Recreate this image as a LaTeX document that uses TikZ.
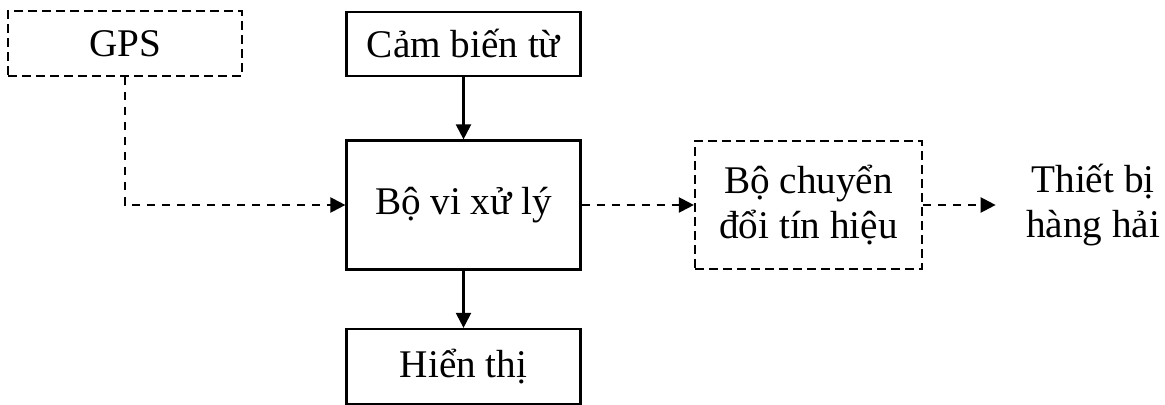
\documentclass[tikz,border=0pt]{standalone}
\usepackage{fontspec}
\setmainfont{Liberation Serif}
\usetikzlibrary{arrows.meta}
\begin{document}
\begin{tikzpicture}[x=0.5pt,y=-0.5pt,
  every node/.style={font=\fontsize{19.6}{22.5}\selectfont, align=center, inner sep=0pt},
  solidbox/.style={draw, line width=1.1pt, minimum width=117pt},
  dashbox/.style={draw, line width=1.1pt, dash pattern=on 4.5pt off 2.5pt},
  tip/.style={-{Triangle[length=7.5pt,width=7.5pt]}},
  solidarrow/.style={tip, line width=1.1pt},
  dasharrow/.style={tip, line width=1.1pt, dash pattern=on 4pt off 3.5pt}]
  \useasboundingbox (0,0) rectangle (1165,405);

  % blocks
  \node[dashbox, minimum width=117pt, minimum height=32.5pt] (gps) at (125,43.5) {GPS};
  \node[solidbox, minimum height=32pt] (sensor) at (463.5,44) {Cảm biến từ};
  \node[solidbox, minimum height=64.5pt] (cpu) at (463.5,205) {Bộ vi xử lý};
  \node[solidbox, minimum height=37.5pt] (disp) at (463.5,366.5) {Hiển thị};
  \node[dashbox, minimum width=113.5pt, minimum height=64pt] (conv) at (808.5,205) {Bộ chuyển\\đổi tín hiệu};
  \node[inner xsep=15pt] (marine) at (1093,205) {Thiết bị\\hàng hải};

  % connections
  \draw[solidarrow] (sensor) -- (cpu);
  \draw[solidarrow] (cpu) -- (disp);
  \draw[dasharrow] (gps.south) |- (cpu.west);
  \draw[dasharrow] (cpu) -- (conv);
  \draw[dasharrow] (conv) -- (marine);
\end{tikzpicture}
\end{document}
